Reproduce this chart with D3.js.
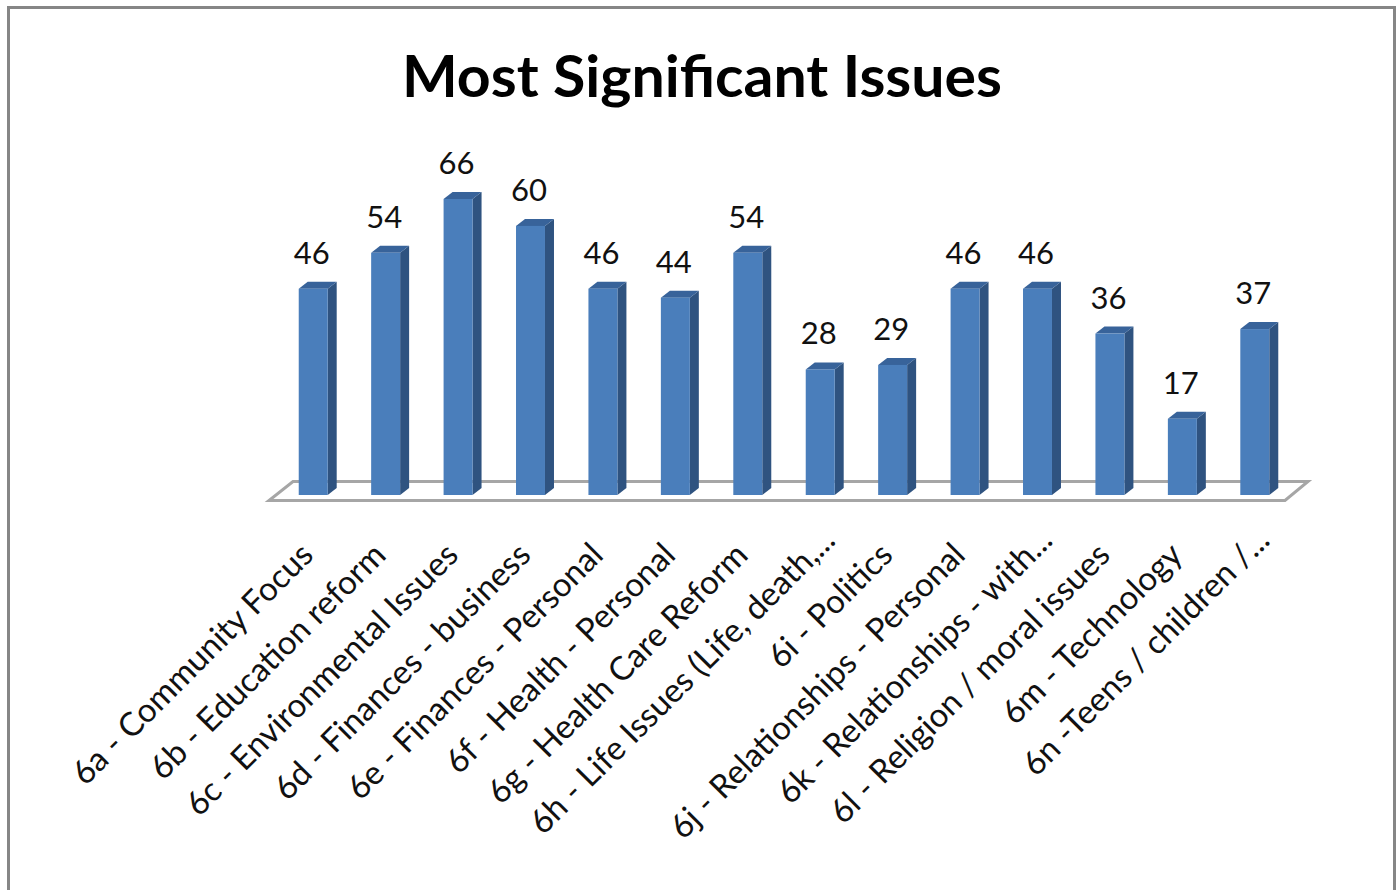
<!DOCTYPE html>
<html><head><meta charset="utf-8"><script src="https://cdn.jsdelivr.net/npm/d3@7/dist/d3.min.js"></script>
<style>html,body{margin:0;padding:0;background:#fff}svg{display:block}</style></head><body><svg id="c" width="1396" height="890"></svg>
<script>
const categories=["6a - Community Focus","6b - Education reform","6c - Environmental Issues","6d - Finances - business","6e - Finances - Personal","6f - Health - Personal","6g - Health Care Reform","6h - Life Issues (Life, death,...","6i - Politics","6j - Relationships - Personal","6k - Relationships - with...","6l - Religion / moral issues","6m - Technology","6n -Teens / children /..."];
const values=[46,54,66,60,46,44,54,28,29,46,46,36,17,37];
const svg=d3.select("#c");
const font="Lato,'Open Sans',sans-serif";
svg.append("rect").attr("x",8.5).attr("y",7.5).attr("width",1386).attr("height",900).attr("fill","#fff").attr("stroke","#868686").attr("stroke-width",3);
svg.append("text").attr("x",702).attr("y",97).attr("text-anchor","middle").attr("font-family",font).attr("font-weight",700).attr("font-size",58).attr("fill","#000").attr("textLength",600).attr("lengthAdjust","spacingAndGlyphs").text("Most Significant Issues");
const x=d3.scaleBand().domain(categories).range([277,1291]).paddingInner(0.6).paddingOuter(0.3);
const y=d3.scaleLinear().domain([0,66]).range([495,199]);
const dx=9,dy=7;
svg.append("path").attr("d",`M269 500.5 L1285 500.5 L1308 481.5 L293 481.5 Z`).attr("fill","#fff").attr("stroke","#a6a6a6").attr("stroke-width",3);
const g=svg.selectAll("g.bar").data(categories).join("g").attr("class","bar");
const W=x.bandwidth();
g.append("path").attr("fill","#2f5380").attr("d",(d,i)=>{const l=x(d)+W,t=y(values[i]),b=y(0);return `M${l} ${t} L${l+dx} ${t-dy} L${l+dx} ${b-dy} L${l} ${b} Z`});
g.append("path").attr("fill","#38639a").attr("d",(d,i)=>{const l=x(d),t=y(values[i]);return `M${l} ${t} L${l+dx} ${t-dy} L${l+W+dx} ${t-dy} L${l+W} ${t} Z`});
g.append("rect").attr("x",d=>x(d)).attr("width",W).attr("y",(d,i)=>y(values[i])).attr("height",(d,i)=>y(0)-y(values[i])).attr("fill","#4a7ebb");
g.append("text").attr("x",d=>x(d)+W/2-1.5).attr("y",(d,i)=>y(values[i])-25).attr("text-anchor","middle").attr("font-family",font).attr("font-size",31).attr("fill","#111").text((d,i)=>values[i]);
svg.selectAll("text.cat").data(categories).join("text").attr("class","cat").attr("text-anchor","end").attr("font-family",font).attr("font-size",33).attr("fill","#111")
.attr("dx",d=>d.endsWith("...")?21:0)
.attr("transform",d=>`translate(${x(d)+W/2+2},${557}) rotate(-45)`).text(d=>d);
</script></body></html>
